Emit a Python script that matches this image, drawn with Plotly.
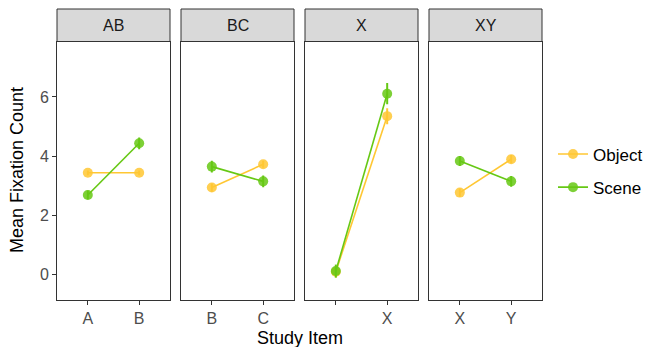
import plotly.graph_objects as go

facets = ["AB", "BC", "X", "XY"]
items = {"AB": ["A", "B"], "BC": ["B", "C"], "X": [" ", "X"], "XY": ["X", "Y"]}
object_mean = {"AB": [3.43, 3.43], "BC": [2.93, 3.72], "X": [0.08, 5.35], "XY": [2.76, 3.89]}
object_se = {"AB": [0.08, 0.08], "BC": [0.14, 0.12], "X": [0.2, 0.27], "XY": [0.14, 0.14]}
scene_mean = {"AB": [2.68, 4.43], "BC": [3.64, 3.14], "X": [0.1, 6.11], "XY": [3.83, 3.14]}
scene_se = {"AB": [0.15, 0.2], "BC": [0.2, 0.2], "X": [0.22, 0.36], "XY": [0.17, 0.18]}

series = [("Object", object_mean, object_se, "#FFC733"),
          ("Scene", scene_mean, scene_se, "#66C814")]

FONT = "Liberation Sans, Arial, sans-serif"
fig = go.Figure()
W, H = 646, 347
ml, mr, mt, mb = 57, 104, 9, 47
pw = W - ml - mr
ph = H - mt - mb
panel_w = 113
gap = (pw - 4 * panel_w) / 3
ytop = (300 - 41.5) / ph

for i, f in enumerate(facets):
    x0 = i * (panel_w + gap) / pw
    x1 = (i * (panel_w + gap) + panel_w) / pw
    xa = "x" if i == 0 else f"x{i+1}"
    ya = "y" if i == 0 else f"y{i+1}"
    for gi, (name, mean, se, col) in enumerate(series):
        fig.add_trace(go.Scatter(
            x=items[f], y=mean[f], mode="lines+markers", name=name,
            xaxis=xa, yaxis=ya, showlegend=(i == 0), legendgroup=name,
            line=dict(color=col, width=1.6),
            marker=dict(color=col, size=10, opacity=0.85),
            error_y=dict(type="data", array=se[f], visible=True, color=col,
                         thickness=2, width=0),
        ))
    axk = "xaxis" if i == 0 else f"xaxis{i+1}"
    ayk = "yaxis" if i == 0 else f"yaxis{i+1}"
    fig.layout[axk] = dict(domain=[x0, x1], type="category",
                           categoryorder="array", categoryarray=items[f],
                           range=[-0.6, 1.6], anchor=ya,
                           showline=True, mirror=True, linecolor="#333333", linewidth=1,
                           ticks="outside", ticklen=4, tickcolor="#333333",
                           tickfont=dict(family=FONT, size=16, color="#4D4D4D"),
                           showgrid=False, zeroline=False, fixedrange=True)
    fig.layout[ayk] = dict(domain=[0, ytop], range=[-0.88, 7.88], anchor=xa,
                           showline=True, mirror=True, linecolor="#333333", linewidth=1,
                           ticks="outside" if i == 0 else "", ticklen=4, tickcolor="#333333",
                           showticklabels=(i == 0), tickvals=[0, 2, 4, 6],
                           tickfont=dict(family=FONT, size=16, color="#4D4D4D"),
                           showgrid=False, zeroline=False,
                           matches=None if i == 0 else "y")
    fig.add_shape(type="rect", xref="paper", yref="paper", x0=x0, x1=x1, y0=ytop, y1=1,
                  fillcolor="#D9D9D9", line=dict(color="#333333", width=1), layer="above")
    fig.add_annotation(text=f, xref="paper", yref="paper", x=(x0 + x1) / 2, y=(ytop + 1) / 2,
                       xanchor="center", yanchor="middle",
                       showarrow=False, font=dict(family=FONT, size=16, color="#1A1A1A"))

fig.add_annotation(text="Study Item", xref="paper", yref="paper", x=(300 - ml) / pw,
                   y=(H - mb - 338) / ph, xanchor="center", yanchor="middle", showarrow=False,
                   font=dict(family=FONT, size=18, color="#000000"))
fig.add_annotation(text="Mean Fixation Count", xref="paper", yref="paper",
                   x=(17 - ml) / pw, y=(H - mb - 170) / ph, textangle=-90,
                   xanchor="center", yanchor="middle",
                   showarrow=False, font=dict(family=FONT, size=18, color="#000000"))

fig.update_layout(
    width=W, height=H, margin=dict(l=ml, r=mr, t=mt, b=mb, autoexpand=False),
    plot_bgcolor="white", paper_bgcolor="white",
    legend=dict(x=(553 - ml) / pw, y=(H - mb - 171) / ph, xanchor="left", yanchor="middle",
                tracegroupgap=8, font=dict(family=FONT, size=17, color="#000000"),
                itemwidth=30),
)

fig.write_html("out.html", config={"displayModeBar": False},
               post_script="document.body.style.margin='0';")
